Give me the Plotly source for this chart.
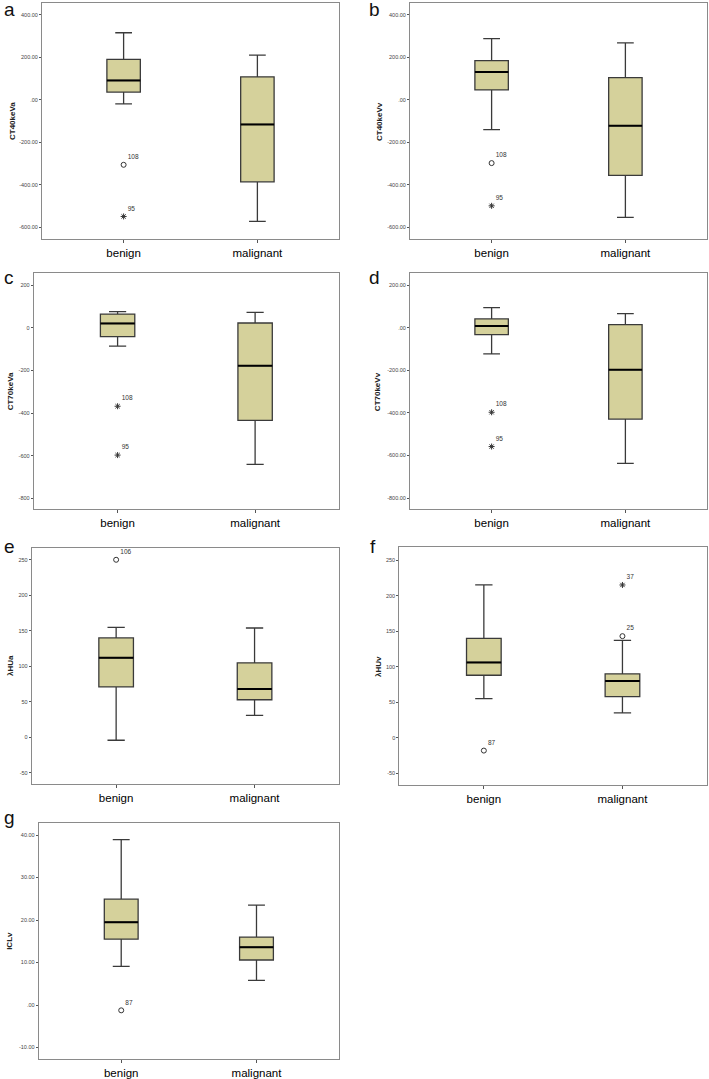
import plotly.graph_objects as go

# ---------------- data ----------------
categories = ["benign", "malignant"]
panel_letters = ["a", "b", "c", "d", "e", "f", "g"]
y_titles = ["CT40keVa", "CT40keVv", "CT70keVa", "CT70keVv", "λHUa", "λHUv", "ICLv"]

# per panel: [benign, malignant]
lower_fence = [[-19, -572], [-141, -553], [-86, -640], [-123, -637], [-4, 31], [55, 35], [9.1, 5.8]]
q1_vals = [[36, -386], [46, -356], [-42, -434], [-33, -429], [71, 53], [88, 58], [15.5, 10.6]]
medians = [[91, -116], [130, -122], [20, -178], [8, -197], [112, 68], [106, 80], [19.5, 13.6]]
q3_vals = [[190, 108], [184, 104], [64, 22], [41, 14], [140, 105], [140, 90], [24.9, 16.0]]
upper_fence = [[315, 210], [287, 267], [75, 72], [94, 66], [155, 154], [215, 137], [38.9, 23.5]]

# outliers per panel: (category index, value, case label, kind)
outliers = [
    [(0, -306, "108", "o"), (0, -549, "95", "*")],
    [(0, -298, "108", "o"), (0, -499, "95", "*")],
    [(0, -368, "108", "*"), (0, -597, "95", "*")],
    [(0, -397, "108", "*"), (0, -558, "95", "*")],
    [(0, 250, "106", "o")],
    [(0, -18, "87", "o"), (1, 143, "25", "o"), (1, 215, "37", "*")],
    [(0, -1.25, "87", "o")],
]

y_tickvals = [
    [400, 200, 0, -200, -400, -600],
    [400, 200, 0, -200, -400, -600],
    [200, 0, -200, -400, -600, -800],
    [200, 0, -200, -400, -600, -800],
    [250, 200, 150, 100, 50, 0, -50],
    [250, 200, 150, 100, 50, 0, -50],
    [40, 30, 20, 10, 0, -10],
]
y_ticktext = [
    ["400.00", "200.00", ".00", "-200.00", "-400.00", "-600.00"],
    ["400.00", "200.00", ".00", "-200.00", "-400.00", "-600.00"],
    ["200", "0", "-200", "-400", "-600", "-800"],
    ["200.00", ".00", "-200.00", "-400.00", "-600.00", "-800.00"],
    ["250", "200", "150", "100", "50", "0", "-50"],
    ["250", "200", "150", "100", "50", "0", "-50"],
    ["40.00", "30.00", "20.00", "10.00", ".00", "-10.00"],
]
y_ranges = [[-655, 455], [-655, 455], [-851, 255], [-851, 255], [-66, 267], [-66, 268], [-12.7, 42.9]]

# ---------------- layout geometry (pixels) ----------------
W, H = 709, 1079
frames = [  # x0, x1, y0(top), y1(bottom)
    (42, 339, 3, 239),
    (410, 707, 3, 239),
    (33.7, 339, 273.3, 509.3),
    (410, 707, 273.3, 509),
    (31.7, 339, 547.7, 784.3),
    (399.3, 707, 547.3, 784.7),
    (38.7, 339, 822.7, 1059),
]
title_x = [12, 379, 10, 377, 10, 378, 10]
letter_pos = [(9, 10), (375, 10), (9, 277), (375, 277), (9, 546), (373, 546), (9, 817)]


def px(x):
    return x / W


def py(y):
    return 1 - y / H


FONT = "Liberation Sans, Arial, sans-serif"
BOX_W = 0.25
fill = "#d5d19b"
edge = "#3a3a3a"

fig = go.Figure()
layout = dict(
    width=W, height=H, autosize=False,
    margin=dict(l=0, r=0, t=0, b=0),
    paper_bgcolor="white", plot_bgcolor="white",
    showlegend=False,
    font=dict(family=FONT),
)
annotations = []
shapes = []

for i in range(7):
    sfx = "" if i == 0 else str(i + 1)
    xa, ya = "x" + sfx, "y" + sfx
    x0, x1, yt, yb = frames[i]
    layout["xaxis" + sfx] = dict(
        domain=[px(x0), px(x1)], range=[-0.61, 1.61], anchor=ya,
        tickvals=[0, 1], ticktext=categories,
        ticks="outside", ticklen=3, tickcolor="#555", tickwidth=1,
        showline=True, mirror=True, linecolor="#8a8a8a", linewidth=1,
        showgrid=False, zeroline=False,
        tickfont=dict(size=11.5, color="#000", family=FONT),
    )
    layout["yaxis" + sfx] = dict(
        domain=[py(yb), py(yt)], range=y_ranges[i], anchor=xa,
        tickvals=y_tickvals[i], ticktext=y_ticktext[i],
        ticks="outside", ticklen=2, tickcolor="#555", tickwidth=1,
        showline=True, mirror=True, linecolor="#8a8a8a", linewidth=1,
        showgrid=False, zeroline=False,
        tickfont=dict(size=5.5, color="#444", family=FONT),
    )

    fig.add_trace(go.Box(
        x=[0, 1],
        q1=q1_vals[i], median=medians[i], q3=q3_vals[i],
        lowerfence=lower_fence[i], upperfence=upper_fence[i],
        width=BOX_W, whiskerwidth=0.5,
        fillcolor=fill, line=dict(color=edge, width=1.3),
        boxpoints=False, hoverinfo="skip",
        xaxis=xa, yaxis=ya,
    ))
    # thicker black median lines
    for c in range(2):
        shapes.append(dict(
            type="line", xref=xa, yref=ya,
            x0=c - BOX_W / 2, x1=c + BOX_W / 2,
            y0=medians[i][c], y1=medians[i][c],
            line=dict(color="black", width=2),
        ))

    # outliers
    for kind, sym in (("o", "circle-open"), ("*", "asterisk-open")):
        pts = [p for p in outliers[i] if p[3] == kind]
        if not pts:
            continue
        fig.add_trace(go.Scatter(
            x=[p[0] for p in pts], y=[p[1] for p in pts],
            text=[p[2] for p in pts],
            mode="markers+text", textposition="top right",
            textfont=dict(size=6.5, color="#333", family=FONT),
            marker=dict(symbol=sym, size=5,
                        color="#333", line=dict(width=1, color="#333")),
            hoverinfo="skip", xaxis=xa, yaxis=ya, cliponaxis=False,
        ))

    annotations.append(dict(
        text="<b>" + y_titles[i] + "</b>", textangle=-90,
        x=px(title_x[i]), y=py((yt + yb) / 2),
        xref="paper", yref="paper", xanchor="center", yanchor="middle",
        showarrow=False, font=dict(size=8, color="#222", family=FONT),
    ))
    lx, ly = letter_pos[i]
    annotations.append(dict(
        text=panel_letters[i], x=px(lx), y=py(ly),
        xref="paper", yref="paper", xanchor="center", yanchor="middle",
        showarrow=False, font=dict(size=19, color="#111", family=FONT),
    ))

layout["annotations"] = annotations
layout["shapes"] = shapes
fig.update_layout(**layout)
fig.write_html(
    "out.html",
    config={"displayModeBar": False},
    post_script="document.body.style.margin='0px';document.body.style.overflow='hidden';",
)
